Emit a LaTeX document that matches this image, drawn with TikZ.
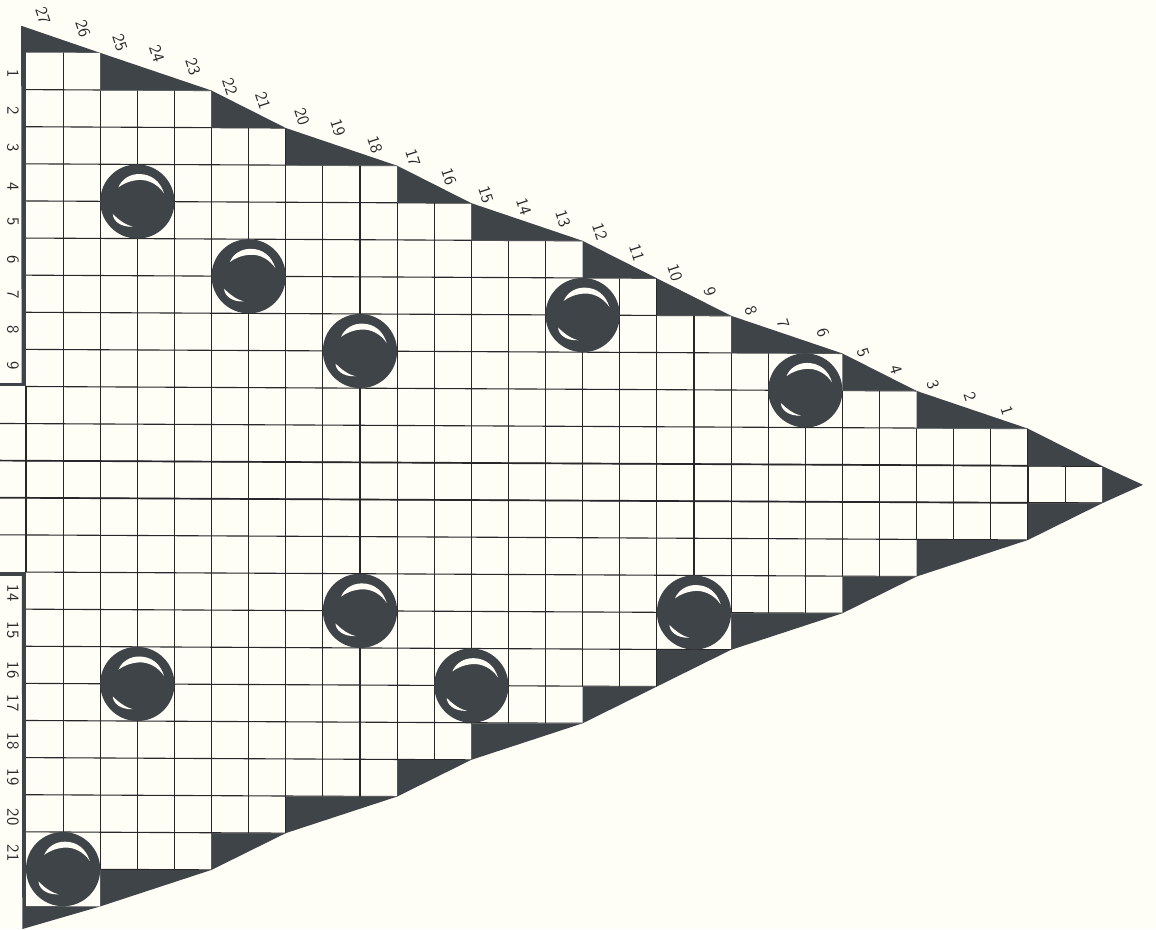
\documentclass[tikz,border=0pt]{standalone}
\usepackage{tikz}
\definecolor{paper}{RGB}{254,253,246}
\definecolor{ink}{RGB}{62,68,72}
\definecolor{rule}{RGB}{40,40,40}
\tikzset{
  numlabel/.style={font=\sffamily\fontsize{13}{15}\selectfont,text=rule,inner sep=0pt},
  gridline/.style={rule,line width=0.85pt},
  heavyline/.style={rule,line width=1.3pt}
}
\def\cellsoutline{(0,0) -- (2,0) |- (5,1) |- (7,2) |- (10,3) |- (12,4) |- (15,5) |- (17,6) |- (19,7) |- (22,8) |- (24,9) |- (27,10) |- (29,11) -- (29,12) -| (27,13) -| (24,14) -| (22,15) -| (19,16) -| (17,17) -| (15,18) -| (12,19) -| (10,20) -| (7,21) -| (5,22) -| (2,23) -- (0,23) -- cycle}
\begin{document}
\begin{tikzpicture}[x=0.02695cm,y=-0.02695cm]
  \fill[paper] (0,0) rectangle (1156,929);
  \useasboundingbox (0,0) rectangle (1156,929);
  % sheet on a slight tilt, one cell is one unit
  \begin{scope}[shift={(26,52.5)},x={(1cm,-0.005cm)},y={(0,-1cm)}]
    \fill[ink] (-0.13,-0.72) -- (2,0) -- (5,1) -- (7,2) -- (10,3) -- (12,4) -- (15,5) -- (17,6) -- (19,7) -- (22,8) -- (24,9) -- (27,10) -- (29,11)
      -- (30.1,11.5) -- (29,12) -- (27,13) -- (24,14) -- (22,15) -- (19,16) -- (17,17) -- (15,18) -- (12,19) -- (10,20) -- (7,21) -- (5,22) -- (2,23) -- (-0.1,23.62) -- cycle;
    \fill[paper] \cellsoutline;
    \fill[paper] (-0.75,9) rectangle (0,14);
    \fill[ink] (-0.75,8.9) rectangle (0,9);
    \fill[ink] (-0.75,14) rectangle (0,14.1);
    \begin{scope}
      \clip \cellsoutline;
      \foreach \i in {1,...,28}
        \draw[gridline] (\i,-1) -- (\i,24);
      \foreach \j in {1,...,22}
        \draw[gridline] (-1,\j) -- (30,\j);
      \draw[heavyline] (-1,11) -- (30,11);
      \draw[heavyline] (-1,12) -- (30,12);
    \end{scope}
    \draw[gridline] (0,9) -- (0,14);
    \foreach \j in {10,13}
      \draw[gridline] (-0.75,\j) -- (0,\j);
    \foreach \j in {11,12}
      \draw[heavyline] (-0.75,\j) -- (0,\j);
    % marbles
    \foreach \cx/\cy in {3/4,6/6,9/8,15/7,21/9,18/15,9/15,12/17,3/17,1/22} {
      \begin{scope}[shift={(\cx,\cy)}]
        \fill[ink] (0,0) circle (1);
        \fill[paper] (-0.51,-0.38) .. controls (-0.42,-0.6) and (-0.2,-0.74) .. (0.05,-0.74)
          .. controls (0.38,-0.74) and (0.62,-0.55) .. (0.72,-0.22)
          .. controls (0.56,-0.46) and (0.3,-0.6) .. (0.03,-0.58)
          .. controls (-0.2,-0.56) and (-0.38,-0.48) .. (-0.51,-0.38) -- cycle;
        \fill[paper] (-0.66,0.34) .. controls (-0.66,0.5) and (-0.48,0.7) .. (-0.12,0.68)
          .. controls (-0.3,0.64) and (-0.48,0.52) .. (-0.66,0.34) -- cycle;
      \end{scope}
    }
  \end{scope}
  % numbers along the slope
  \foreach \n/\px/\py in {27/43/16,26/83/29,25/120/43,24/157/54,23/193/67,22/230/87,21/263/101,20/302/117,19/338/128,18/375/145,
    17/413/158,16/449/177,15/486/195,14/524/207,13/563/219,12/600/232,11/637/253,10/675/273,9/710/292,8/751/311,7/783/324,
    6/823/333,5/863/353,4/896/370,3/933/385,2/970/397,1/1007/411}
    \node[numlabel,rotate=-72] (top\n) at (\px,\py) {\n};
  % numbers down the side
  \foreach \n/\py in {1/74,2/111,3/148,4/187,5/222,6/260,7/295,8/330,9/366,14/593,15/630,16/670,17/703,18/741,19/777,20/817,21/853}
    \node[numlabel,rotate=-90] (side\n) at (13,\py) {\n};
\end{tikzpicture}
\end{document}
